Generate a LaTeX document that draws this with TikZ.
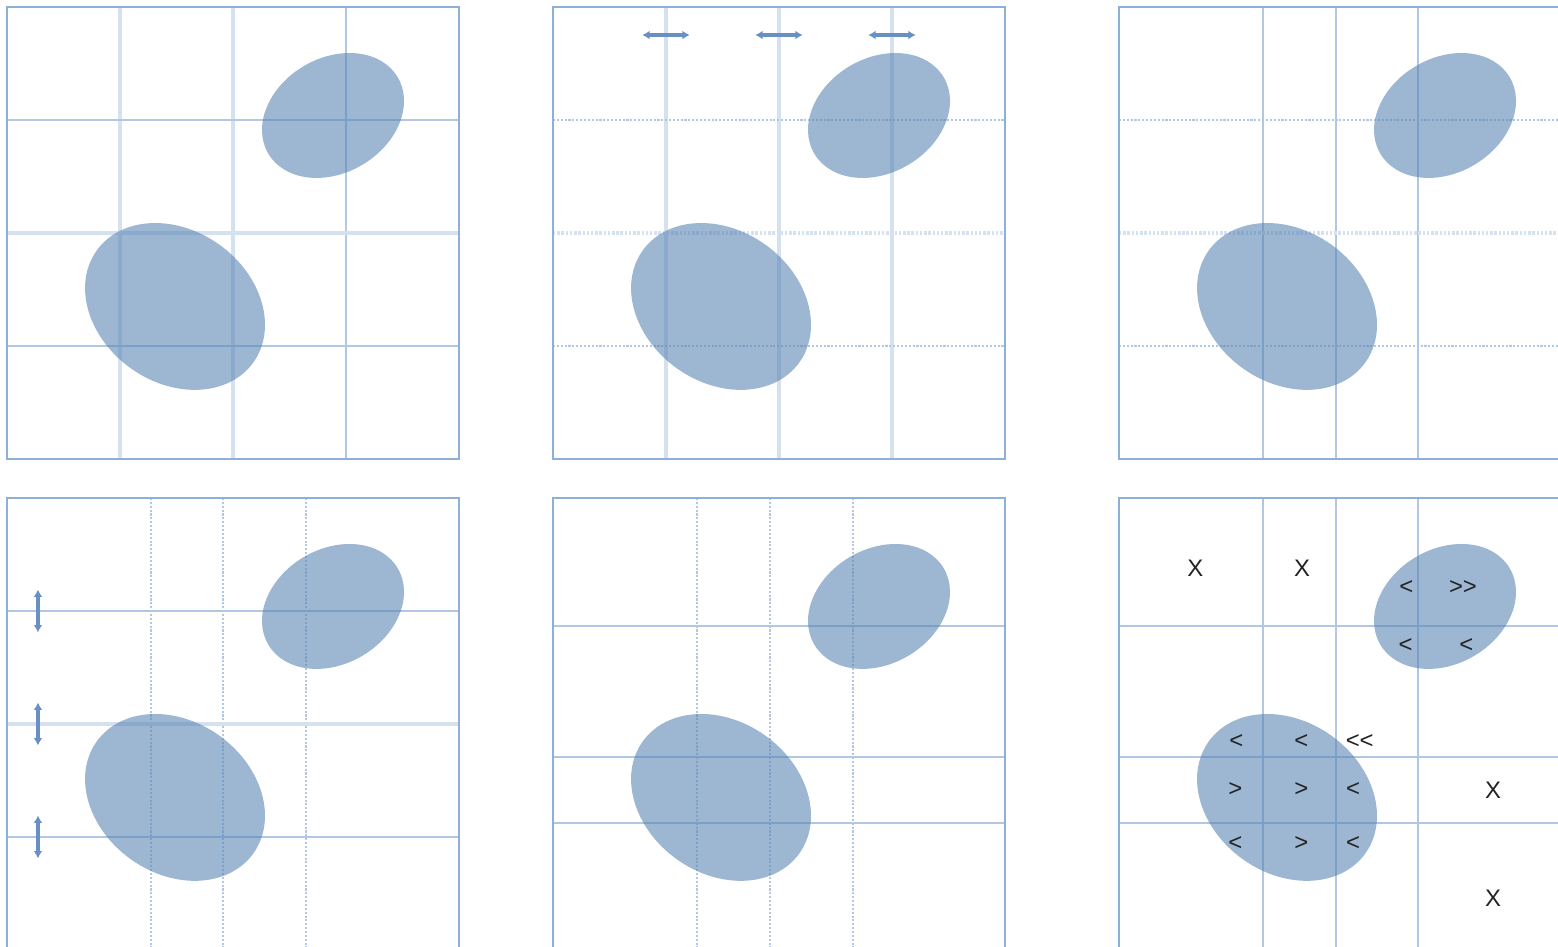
\documentclass[tikz,border=0pt]{standalone}
\usepackage{fontspec}
\setmainfont{Liberation Sans}
\usetikzlibrary{arrows.meta}
\definecolor{frameblue}{RGB}{140,176,216}
\definecolor{gridblue}{RGB}{178,200,226}
\definecolor{faintblue}{RGB}{214,225,240}
\definecolor{blobblue}{RGB}{82,128,178}
\definecolor{arrowblue}{RGB}{104,144,194}
\definecolor{inkgray}{RGB}{35,35,35}
\tikzset{
  panelframe/.style={draw=frameblue, line width=1.5pt},
  gridsolid/.style={draw=gridblue, line width=1.1pt},
  gridfaint/.style={draw=faintblue, line width=2.2pt},
  griddot/.style={draw=gridblue, line width=1pt, dash pattern=on 1.2pt off 1pt},
  griddotfaint/.style={draw=faintblue, line width=2pt, dash pattern=on 1.4pt off 1pt},
  blob/.style={fill=blobblue, fill opacity=0.57},
  shiftarrow/.style={draw=arrowblue, line width=1.9pt,
    {Latex[length=4.2pt,width=5pt]}-{Latex[length=4.2pt,width=5pt]}},
  tally/.style={text=inkgray, inner sep=0pt, font=\fontsize{13.6}{16}\selectfont},
}
% the two clusters, same in every panel
\newcommand{\drawblobs}{%
  \fill[blob, rotate around={-35.5:(1.487,-2.650)}] (1.487,-2.650) ellipse [x radius=0.852, y radius=0.673];
  \fill[blob, rotate around={30.5:(2.885,-0.960)}] (2.885,-0.960) ellipse [x radius=0.665, y radius=0.508];}

\begin{document}
\begin{tikzpicture}[x=2.26cm, y=2.26cm]
  \useasboundingbox (0,0) rectangle (13.788,-8.372);
  \clip (0,0) rectangle (13.788,-8.372);

  % top left
  \begin{scope}[shift={(0.062,-0.062)}]
    \foreach \g in {1,2} \draw[gridfaint] (\g,0) -- (\g,-4);
    \draw[gridsolid] (3,0) -- (3,-4);
    \foreach \g in {1,3} \draw[gridsolid] (0,-\g) -- (4,-\g);
    \draw[gridfaint] (0,-2) -- (4,-2);
    \drawblobs
    \draw[panelframe] (0,0) rectangle (4,-4);
  \end{scope}

  % top middle
  \begin{scope}[shift={(4.894,-0.062)}]
    \foreach \g in {1,2,3} \draw[gridfaint] (\g,0) -- (\g,-4);
    \foreach \g in {1,3} \draw[griddot] (0,-\g) -- (4,-\g);
    \draw[griddotfaint] (0,-2) -- (4,-2);
    \drawblobs
    \foreach \g in {1,2,3} {
      \coordinate (hl\g) at (\g-0.21,-0.248);
      \coordinate (hr\g) at (\g+0.21,-0.248);
      \draw[shiftarrow] (hl\g) -- (hr\g);
    }
    \draw[panelframe] (0,0) rectangle (4,-4);
  \end{scope}

  % top right
  \begin{scope}[shift={(9.903,-0.062)}]
    \foreach \g in {1.274,1.92,2.646} \draw[gridsolid] (\g,0) -- (\g,-4);
    \foreach \g in {1,3} \draw[griddot] (0,-\g) -- (4,-\g);
    \draw[griddotfaint] (0,-2) -- (4,-2);
    \drawblobs
    \draw[panelframe] (0,0) rectangle (4,-4);
  \end{scope}

  % bottom left
  \begin{scope}[shift={(0.062,-4.407)}]
    \foreach \g in {1.274,1.91,2.646} \draw[griddot] (\g,0) -- (\g,-4);
    \foreach \g in {1,3} \draw[gridsolid] (0,-\g) -- (4,-\g);
    \draw[gridfaint] (0,-2) -- (4,-2);
    \drawblobs
    \foreach \g in {1,2,3} {
      \coordinate (vt\g) at (0.274,-\g+0.19);
      \coordinate (vb\g) at (0.274,-\g-0.19);
      \draw[shiftarrow] (vt\g) -- (vb\g);
    }
    \draw[panelframe] (0,0) rectangle (4,-4);
  \end{scope}

  % bottom middle
  \begin{scope}[shift={(4.894,-4.407)}]
    \foreach \g in {1.274,1.92,2.655} \draw[griddot] (\g,0) -- (\g,-4);
    \foreach \g in {1.133,2.292,2.876} \draw[gridsolid] (0,-\g) -- (4,-\g);
    \drawblobs
    \draw[panelframe] (0,0) rectangle (4,-4);
  \end{scope}

  % bottom right
  \begin{scope}[shift={(9.903,-4.407)}]
    \foreach \g in {1.274,1.92,2.646} \draw[gridsolid] (\g,0) -- (\g,-4);
    \foreach \g in {1.133,2.292,2.876} \draw[gridsolid] (0,-\g) -- (4,-\g);
    \drawblobs
    \foreach \px/\py/\txt [count=\k] in {0.675/-0.622/X, 1.62/-0.622/X,
        2.543/-0.794/<, 3.044/-0.794/>{}>, 2.537/-1.31/<, 3.074/-1.31/<,
        1.038/-2.157/<, 1.613/-2.157/<, 2.13/-2.157/<{}<,
        1.029/-2.584/>, 1.613/-2.584/>, 2.071/-2.584/<, 3.31/-2.584/X,
        1.029/-3.056/<, 1.613/-3.056/>, 2.071/-3.056/<, 3.31/-3.54/X}
      \node[tally] (t\k) at (\px,\py) {\txt};
    \draw[panelframe] (0,0) rectangle (4,-4);
  \end{scope}
\end{tikzpicture}
\end{document}
